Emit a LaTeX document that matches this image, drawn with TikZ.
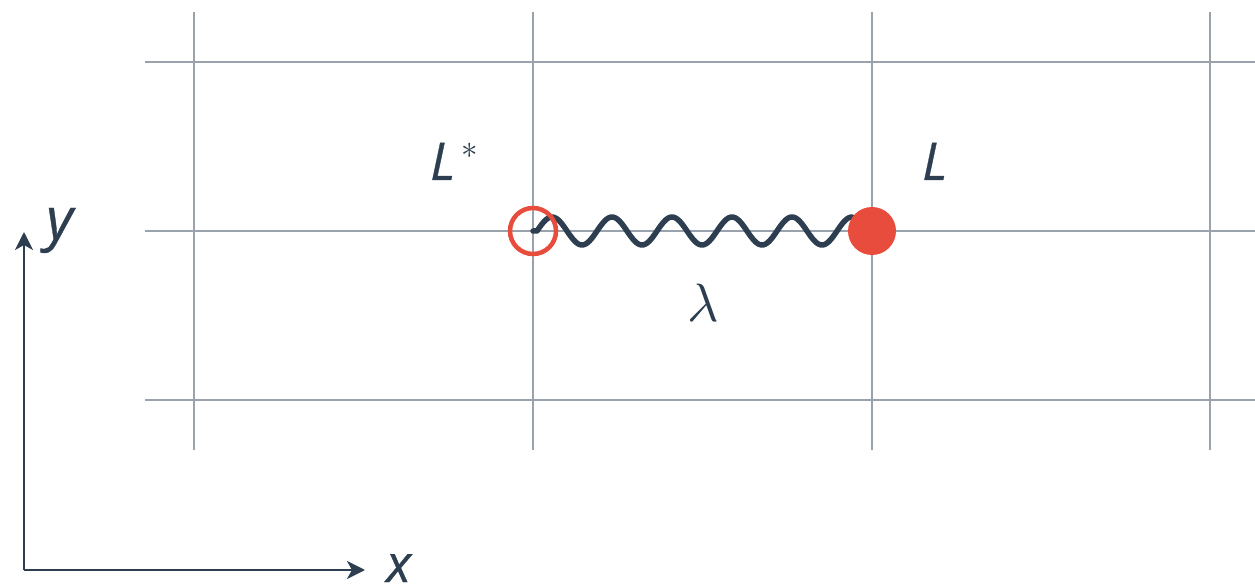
\documentclass[tikz,border=0pt]{standalone}
\usepackage{fontspec}
\newfontfamily\osans[FakeBold=0.6]{Open Sans}
\usetikzlibrary{arrows.meta}
\definecolor{gridgray}{HTML}{9AA3AD}
\definecolor{navy}{HTML}{2C3E50}
\definecolor{redc}{HTML}{E74C3C}
\begin{document}
\begin{tikzpicture}[x=1pt,y=1pt,
  gridline/.style={draw=gridgray,line width=2pt},
  axis/.style={draw=navy,line width=2.5pt,-{Stealth[length=18pt,width=18pt,inset=5pt]}},
  lbl/.style={text=navy,font=\osans\itshape\fontsize{52}{60}\selectfont,inner sep=0pt},
  wave/.style={draw=navy,line width=5.5pt,line cap=round,line join=round},
  opendot/.style={circle,draw=redc,line width=4.5pt,minimum size=46pt,inner sep=0pt},
  filldot/.style={circle,fill=redc,minimum size=48pt,inner sep=0pt}]
\useasboundingbox (0,0) rectangle (1255,584);
% grid
\foreach \gx in {194,533,872,1210} \draw[gridline] (\gx,572) -- (\gx,134);
\foreach \gy in {522,353,184} \draw[gridline] (145,\gy) -- (1255,\gy);
% nodes
\coordinate (lo) at (533,353);
\coordinate (hi) at (872,353);
% wave
\draw[wave] (lo) -- ++(4,0) plot[domain=0:315,samples=200] ({537+\x},{353+14*sin(6*\x)});
\node[opendot] (Lstar) at (lo) {};
\node[filldot] (Lnode) at (hi) {};
% labels
\node[lbl,anchor=base west] (Lstarlbl) at (430,404) {L};
\node[text=navy,inner sep=0pt,scale=3.3] (star) at (470,433) {$\ast$};
\node[lbl,anchor=base west] (Llbl) at (922,404) {L};
\node[text=navy,inner sep=0pt,anchor=base,scale=5.4] (lam) at (703,262) {$\lambda$};
% axes
\coordinate (O) at (24,14);
\coordinate (ytip) at (24,352);
\coordinate (xtip) at (365,14);
\draw[axis] (O) -- (ytip);
\draw[axis] (O) -- (xtip);
\node[lbl,anchor=base west,font=\osans\itshape\fontsize{58}{66}\selectfont] (ylbl) at (46,345) {y};
\node[lbl,anchor=base west] (xlbl) at (386,2) {x};
\end{tikzpicture}
\end{document}
